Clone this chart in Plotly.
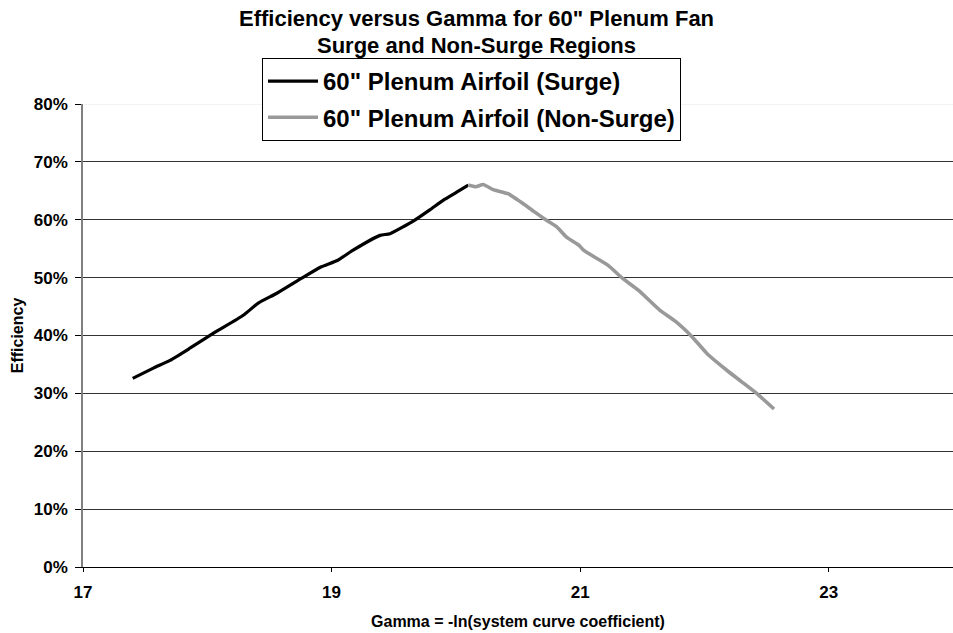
import plotly.graph_objects as go

# Efficiency vs gamma, surge region (rising branch)
surge_gamma = [17.40, 17.57, 17.70, 17.86, 18.05, 18.29, 18.41, 18.56, 18.76,
               18.91, 19.05, 19.17, 19.39, 19.47, 19.66, 19.79, 19.90, 20.01, 20.10]
surge_eff = [0.326, 0.344, 0.357, 0.378, 0.404, 0.435, 0.456, 0.473, 0.499,
             0.518, 0.530, 0.547, 0.573, 0.576, 0.598, 0.617, 0.634, 0.648, 0.660]

# Efficiency vs gamma, non-surge region (falling branch)
nonsurge_gamma = [20.10, 20.16, 20.22, 20.30, 20.42, 20.52, 20.63, 20.73, 20.81,
                  20.89, 20.99, 21.03, 21.22, 21.34, 21.47, 21.64, 21.77, 21.90,
                  22.02, 22.18, 22.30, 22.42, 22.56]
nonsurge_eff = [0.660, 0.657, 0.661, 0.652, 0.645, 0.631, 0.614, 0.599, 0.588,
                0.570, 0.556, 0.547, 0.522, 0.499, 0.478, 0.444, 0.424, 0.398,
                0.369, 0.340, 0.320, 0.300, 0.273]

y_ticks = [0, 0.1, 0.2, 0.3, 0.4, 0.5, 0.6, 0.7, 0.8]
x_ticks = [17, 19, 21, 23]

FONT = "Liberation Sans, Arial, sans-serif"
W, H = 953, 633
M_L, M_R, M_T, M_B = 83, 0, 104, 66

fig = go.Figure()
fig.add_trace(go.Scatter(
    x=surge_gamma, y=surge_eff, mode="lines",
    name="<b>60\" Plenum Airfoil (Surge)</b>",
    line=dict(color="#000000", width=3.2, shape="spline", smoothing=0.5),
    legendgroup="a",
))
fig.add_trace(go.Scatter(
    x=nonsurge_gamma, y=nonsurge_eff, mode="lines",
    name="<b>60\" Plenum Airfoil (Non-Surge)</b>",
    line=dict(color="#999999", width=3.6, shape="spline", smoothing=0.5),
    legendgroup="b",
))

plot_h = H - M_T - M_B
plot_w = W - M_L - M_R


def py_to_paper(py):
    return (H - M_B - py) / plot_h


def px_to_paper(px):
    return (px - M_L) / plot_w


fig.update_layout(
    width=W, height=H,
    margin=dict(l=M_L, r=M_R, t=M_T, b=M_B),
    paper_bgcolor="white", plot_bgcolor="white",
    font=dict(family=FONT, color="#000000"),
    showlegend=True,
    legend=dict(
        x=px_to_paper(262), y=py_to_paper(58), xanchor="left", yanchor="top",
        bgcolor="white", bordercolor="#000000", borderwidth=1,
        font=dict(family=FONT, size=24, color="#000000"),
        traceorder="grouped", tracegroupgap=2,
        itemwidth=50,
    ),
    annotations=[
        dict(text="<b>Efficiency versus Gamma for 60\" Plenum Fan</b>",
             x=px_to_paper(476), xref="paper", y=py_to_paper(18), yref="paper",
             xanchor="center", yanchor="middle",
             showarrow=False, font=dict(size=22, family=FONT)),
        dict(text="<b>Surge and Non-Surge Regions</b>",
             x=px_to_paper(476), xref="paper", y=py_to_paper(45), yref="paper",
             xanchor="center", yanchor="middle",
             showarrow=False, font=dict(size=22, family=FONT)),
    ],
    shapes=[
        dict(type="line", xref="paper", yref="y", x0=0, x1=1, y0=0.8, y1=0.8,
             line=dict(color="#e8e8e8", width=1), layer="above"),
    ],
)

fig.update_xaxes(
    range=[17, 24],
    tickvals=x_ticks, ticktext=[f"<b>{v}</b>" for v in x_ticks],
    tickfont=dict(size=17, family=FONT),
    showline=True, linecolor="#000000", linewidth=1,
    ticks="outside", ticklen=4, tickcolor="#000000",
    ticklabelstandoff=6,
    showgrid=False, zeroline=False,
    title=dict(text="<b>Gamma = -ln(system curve coefficient)</b>",
               font=dict(size=16, family=FONT), standoff=14),
)
fig.update_yaxes(
    range=[0, 0.8],
    tickvals=y_ticks, ticktext=[f"<b>{int(round(v*100))}%</b>" for v in y_ticks],
    tickfont=dict(size=17, family=FONT),
    showline=True, linecolor="#808080", linewidth=1.5,
    ticks="outside", ticklen=6, tickcolor="#000000",
    ticklabelstandoff=4,
    showgrid=True, gridcolor="#333333", gridwidth=1,
    zeroline=False,
    title=dict(text="<b>Efficiency</b>", font=dict(size=16, family=FONT), standoff=6),
)

fig.write_html("out.html")
